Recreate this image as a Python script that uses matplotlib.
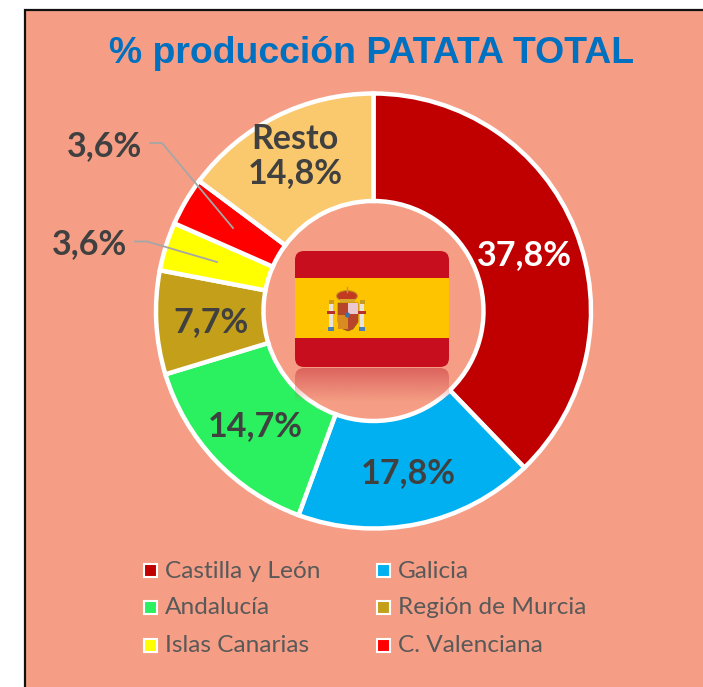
import matplotlib
matplotlib.use("Agg")
import matplotlib.pyplot as plt
import numpy as np
from matplotlib.patches import FancyBboxPatch, Rectangle, Ellipse, Polygon, Circle

regions = ["Castilla y León", "Galicia", "Andalucía", "Región de Murcia", "Islas Canarias", "C. Valenciana", "Resto"]
values = [37.8, 17.8, 14.7, 7.7, 3.6, 3.6, 14.8]
labels = ["37,8%", "17,8%", "14,7%", "7,7%", "3,6%", "3,6%", "Resto\n14,8%"]
colors = ["#C00000", "#00B0F0", "#2BF05F", "#C49F1A", "#FFFF00", "#FF0000", "#FAC96E"]
label_colors = ["white", "#404040", "#404040", "#404040", "#404040", "#404040", "#404040"]
label_pos = [(524, 255), (408, 473), (255, 426), (211, 322), (90, 244), (105, 146), (295, 156)]
title = "% producción PATATA TOTAL"
legend_pos = [(144, 570), (377, 570), (144, 607), (377, 607), (144, 645), (377, 645)]
BG = "#F59E85"

fig = plt.figure(figsize=(7.03, 6.87), dpi=100, facecolor="white")
ax = fig.add_axes([0, 0, 1, 1])
ax.set_xlim(0, 703)
ax.set_ylim(687, 0)
ax.axis("off")
F = "Lato"

ax.add_patch(Rectangle((24.5, 9.5), 690, 690, fc=BG, ec="#111111", lw=1.6, zorder=0))
ax.text(372, 53.5, title, color="#0070C0", fontsize=26.9, fontweight="bold",
        family="Liberation Sans", ha="center", va="center")

# Donut (y axis runs downward, so the sense of rotation is flipped)
cx, cy, R = 373.5, 311, 217.5
ax.pie(values, colors=colors, startangle=-90, counterclock=True, center=(cx, cy), radius=R,
       wedgeprops=dict(width=R - 110, edgecolor="white", linewidth=3.2), frame=False)
ax.set_xlim(0, 703)
ax.set_ylim(687, 0)
ax.set_aspect("auto")

# Flag
fx0, fx1, fy0, fy1 = 295, 449, 251, 367
ax.add_patch(FancyBboxPatch((fx0 + 8, fy0 + 8), fx1 - fx0 - 16, fy1 - fy0 - 16,
                            boxstyle="round,pad=8,rounding_size=9", fc="#C60E1F", ec="none", zorder=5))
ax.add_patch(Rectangle((fx0, 278), fx1 - fx0, 60, fc="#FFC400", ec="none", zorder=6))
# Reflection below the flag
grad = np.zeros((40, 2, 4))
grad[..., :3] = np.array([0xD8, 0x5A, 0x58]) / 255
grad[..., 3] = np.linspace(0.85, 0, 40)[:, None]
im = ax.imshow(grad, extent=(fx0, fx1, 402, 368), aspect="auto", zorder=4, origin="upper")
im.set_clip_path(FancyBboxPatch((fx0 + 8, 376), fx1 - fx0 - 16, 24,
                                boxstyle="round,pad=8,rounding_size=9", transform=ax.transData))
ax.set_xlim(0, 703)
ax.set_ylim(687, 0)

# Coat of arms (simplified)
ax.add_patch(Polygon([(338, 303), (358, 303), (358, 322), (353, 329), (348, 331), (343, 329), (338, 322)],
                     fc="#B8452A", ec="#8A5A20", lw=0.5, zorder=7))
ax.add_patch(Rectangle((348, 303), 10, 11, fc="#EBC7CF", ec="none", zorder=8))
ax.add_patch(Rectangle((338, 315), 10, 14, fc="#D98A20", ec="none", zorder=8))
ax.add_patch(Circle((347.5, 315), 2.6, fc="#3D6FA8", ec="none", zorder=9))
ax.add_patch(Ellipse((347, 296), 21, 11, fc="#C23A20", ec="#C89A20", lw=0.8, zorder=7))
ax.add_patch(Rectangle((340, 299), 15, 3, fc="#D9A72A", ec="none", zorder=8))
ax.plot([347, 347], [287, 292], color="#C89A20", lw=1, zorder=8)
for px in (331, 362):
    ax.add_patch(Rectangle((px - 1.8, 303), 3.6, 24, fc="#E8E2DC", ec="none", zorder=7))
    ax.add_patch(Rectangle((px - 2.5, 300), 5, 4, fc="#C89A20", ec="none", zorder=8))
    ax.add_patch(Rectangle((px - 3, 327), 6, 4, fc="#4A7FB5", ec="none", zorder=8))
    ax.add_patch(Rectangle((px - 4, 311), 8, 2.5, fc="#B8302A", ec="none", zorder=8))

# Leader lines
ax.plot([150, 162, 233], [143, 143, 228], color="#A6A6A6", lw=1.3, zorder=10)
ax.plot([135, 147, 217], [241.5, 241.5, 262], color="#A6A6A6", lw=1.3, zorder=10)

# Data labels
for lab, c, (x, y) in zip(labels, label_colors, label_pos):
    ax.text(x, y, lab, color=c, fontsize=24.5, fontweight="bold", family=F,
            ha="center", va="center", linespacing=1.05, zorder=11)

# Legend
for name, c, (x, y) in zip(regions, colors, legend_pos):
    ax.add_patch(Rectangle((x, y - 6), 13, 13, fc=c, ec="white", lw=1.5, zorder=5))
    ax.text(x + 21, y + 1, name, color="#595959", fontsize=17.6, family=F, ha="left", va="center")

fig.savefig("out.png", dpi=100, facecolor="white")
